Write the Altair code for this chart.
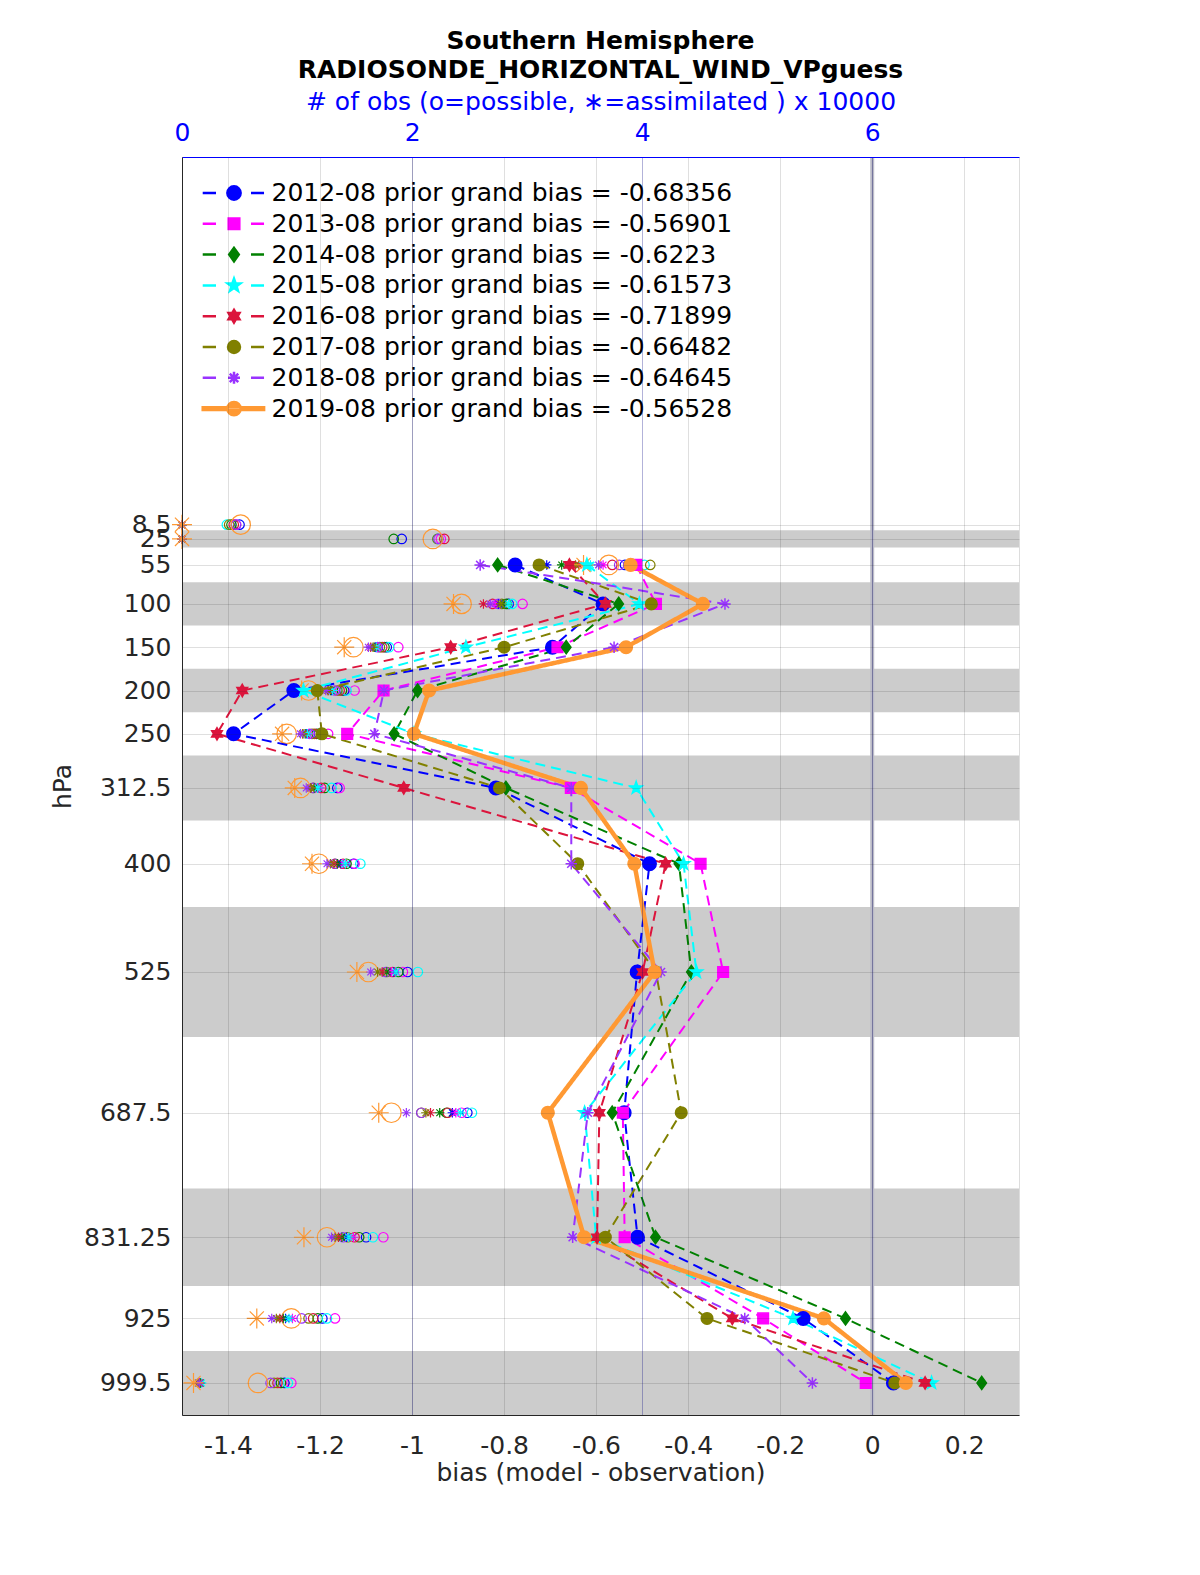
import math
import altair as alt
import pandas as pd

# ---------------- data ----------------
levels = [8.5, 25, 55, 100, 150, 200, 250, 312.5, 400, 525, 687.5, 831.25, 925, 999.5]
bias_levels = [55, 100, 150, 200, 250, 312.5, 400, 525, 687.5, 831.25, 925, 999.5]
layer_edges = [2, 15, 35, 75, 125, 175, 225, 275, 350, 450, 600, 775, 887.5, 962.5, 1036.5]
shaded_layers = [1, 3, 5, 7, 9, 11, 13]

years = ["2012-08", "2013-08", "2014-08", "2015-08", "2016-08", "2017-08", "2018-08", "2019-08"]
grand_bias = ["-0.68356", "-0.56901", "-0.6223", "-0.61573", "-0.71899", "-0.66482", "-0.64645", "-0.56528"]
colors = ["#0000FF", "#FF00FF", "#008000", "#00FFFF", "#DC143C", "#808000", "#9933FF", "#FF9933"]

bias_2012 = [-0.776, -0.585, -0.695, -1.257, -1.388, -0.818, -0.484, -0.511, -0.539, -0.510, -0.150, 0.046]
bias_2013 = [-0.513, -0.470, -0.684, -1.062, -1.141, -0.655, -0.373, -0.324, -0.542, -0.538, -0.237, -0.014]
bias_2014 = [-0.814, -0.551, -0.665, -0.988, -1.039, -0.796, -0.420, -0.393, -0.565, -0.471, -0.058, 0.238]
bias_2015 = [-0.620, -0.506, -0.883, -1.236, -0.996, -0.513, -0.410, -0.382, -0.625, -0.600, -0.172, 0.129]
bias_2016 = [-0.658, -0.580, -0.916, -1.369, -1.424, -1.018, -0.449, -0.499, -0.593, -0.598, -0.304, 0.115]
bias_2017 = [-0.724, -0.480, -0.800, -1.206, -1.196, -0.810, -0.640, -0.470, -0.415, -0.580, -0.359, 0.049]
bias_2018 = [-0.852, -0.320, -0.561, -1.061, -1.082, -0.654, -0.654, -0.459, -0.618, -0.651, -0.277, -0.130]
bias_2019 = [-0.525, -0.368, -0.535, -0.963, -0.996, -0.633, -0.517, -0.473, -0.705, -0.626, -0.105, 0.073]
bias_all = [bias_2012, bias_2013, bias_2014, bias_2015, bias_2016, bias_2017, bias_2018, bias_2019]

# obs counts (x 10000), one value per level in `levels`
possible_2012 = [0.50, 1.91, 3.85, 2.84, 1.78, 1.41, 1.19, 1.35, 1.49, 1.96, 2.48, 1.60, 1.22, 0.89]
possible_2013 = [0.47, 2.25, 3.92, 2.96, 1.88, 1.50, 1.27, 1.37, 1.50, 1.92, 2.43, 1.75, 1.33, 0.95]
possible_2014 = [0.43, 1.84, 3.88, 2.82, 1.76, 1.39, 1.17, 1.24, 1.43, 1.88, 2.30, 1.54, 1.18, 0.86]
possible_2015 = [0.39, 2.22, 4.02, 2.87, 1.80, 1.43, 1.21, 1.30, 1.55, 2.05, 2.52, 1.66, 1.26, 0.92]
possible_2016 = [0.45, 2.28, 3.74, 2.70, 1.74, 1.37, 1.15, 1.21, 1.40, 1.83, 2.31, 1.50, 1.14, 0.83]
possible_2017 = [0.41, 2.22, 4.07, 2.78, 1.72, 1.35, 1.13, 1.14, 1.33, 1.78, 2.08, 1.44, 1.10, 0.80]
possible_2018 = [0.47, 2.23, 3.80, 2.75, 1.70, 1.33, 1.11, 1.14, 1.33, 1.77, 2.08, 1.40, 1.04, 0.77]
possible_2019 = [0.51, 2.18, 3.71, 2.43, 1.49, 1.10, 0.91, 1.03, 1.19, 1.62, 1.82, 1.26, 0.95, 0.66]
possible_all = [possible_2012, possible_2013, possible_2014, possible_2015,
                possible_2016, possible_2017, possible_2018, possible_2019]

assim_2012 = [0, 0, 3.17, 2.75, 1.68, 1.30, 1.08, 1.18, 1.38, 1.84, 2.35, 1.43, 0.90, 0.15]
assim_2013 = [0, 0, 3.66, 2.72, 1.70, 1.32, 1.10, 1.20, 1.40, 1.82, 2.38, 1.49, 0.96, 0.16]
assim_2014 = [0, 0, 3.30, 2.79, 1.67, 1.29, 1.07, 1.15, 1.35, 1.78, 2.24, 1.39, 0.88, 0.16]
assim_2015 = [0, 0, 3.55, 2.84, 1.69, 1.31, 1.09, 1.18, 1.42, 1.86, 2.42, 1.45, 0.93, 0.17]
assim_2016 = [0, 0, 3.45, 2.62, 1.64, 1.27, 1.05, 1.12, 1.32, 1.74, 2.16, 1.36, 0.85, 0.15]
assim_2017 = [0, 0, 3.42, 2.77, 1.66, 1.27, 1.05, 1.12, 1.29, 1.70, 2.12, 1.33, 0.82, 0.14]
assim_2018 = [0, 0, 3.62, 2.68, 1.62, 1.25, 1.03, 1.08, 1.26, 1.64, 1.95, 1.30, 0.78, 0.15]
assim_2019 = [0, 0, 3.49, 2.36, 1.41, 1.04, 0.87, 0.98, 1.13, 1.52, 1.71, 1.06, 0.65, 0.10]
assim_all = [assim_2012, assim_2013, assim_2014, assim_2015,
             assim_2016, assim_2017, assim_2018, assim_2019]

x_ticks = [-1.4, -1.2, -1.0, -0.8, -0.6, -0.4, -0.2, 0.0, 0.2]
count_ticks = [0, 2, 4, 6]
zero_line = [0.0]

labels = [f"{y} prior grand bias = {g}" for y, g in zip(years, grand_bias)]

# ---------------- marker shapes ----------------
def circle_path(r):
    return f"M{-r},0A{r},{r} 0 1,0 {r},0A{r},{r} 0 1,0 {-r},0Z"

def square_path(r):
    return f"M{-r},{-r}L{r},{-r}L{r},{r}L{-r},{r}Z"

def diamond_path(r):
    return f"M0,{-r}L{0.72*r:.3f},0L0,{r}L{-0.72*r:.3f},0Z"

def star_path(r):
    pts = []
    for k in range(10):
        rad = r if k % 2 == 0 else r * 0.4
        ang = -math.pi / 2 + k * math.pi / 5
        pts.append((rad * math.cos(ang), rad * math.sin(ang)))
    return "M" + "L".join(f"{x:.3f},{y:.3f}" for x, y in pts) + "Z"

def hexagram_path(r):
    a, b = 0.866 * r, 0.5 * r
    return (f"M0,{-r}L{a:.3f},{b:.3f}L{-a:.3f},{b:.3f}Z"
            f"M0,{r}L{-a:.3f},{-b:.3f}L{a:.3f},{-b:.3f}Z")

def asterisk_path(r):
    d = 0.707 * r
    return (f"M{-r},0L{r},0M0,{-r}L0,{r}"
            f"M{-d:.3f},{-d:.3f}L{d:.3f},{d:.3f}M{-d:.3f},{d:.3f}L{d:.3f},{-d:.3f}")

marker_funcs = [circle_path, square_path, diamond_path, star_path,
                hexagram_path, circle_path, asterisk_path, circle_path]
marker_scale = [1, 0.8, 1, 1, 0.95, 0.9, 0.9, 1]
point_shapes = [f(s) for f, s in zip(marker_funcs, marker_scale)]
point_sizes = [180, 160, 210, 240, 220, 170, 180, 180]

# legend symbols: dash - marker - dash (unit = 7px)
dash_seg = "M-4.47,0L-2.57,0M2.43,0L4.29,0"
solid_seg = "M-4.47,-0.2L4.3,-0.2L4.3,0.2L-4.47,0.2Z"
legend_paths = []
for i, (f, s) in enumerate(zip(marker_funcs, marker_scale)):
    seg = solid_seg if i == 7 else dash_seg
    legend_paths.append(seg + f(0.95 * s))

# ---------------- tables ----------------
bias_rows = []
for lab, vals in zip(labels, bias_all):
    for p, v in zip(bias_levels, vals):
        bias_rows.append({"series": lab, "pressure": p, "bias": v})
bias_df = pd.DataFrame(bias_rows)

count_rows = []
for lab, pos, asm in zip(labels, possible_all, assim_all):
    for p, a, b in zip(levels, pos, asm):
        count_rows.append({"series": lab, "pressure": p, "possible": a, "assim": b})
count_df = pd.DataFrame(count_rows)

band_df = pd.DataFrame({"lo": [layer_edges[i] for i in shaded_layers],
                        "hi": [layer_edges[i + 1] for i in shaded_layers]})
zero_df = pd.DataFrame({"v": zero_line})
legend_df = pd.DataFrame({"series": labels})

# ---------------- scales / axes ----------------
FONT = "DejaVu Sans"
FS = 25
AX = "#262626"

y_scale = alt.Scale(domain=[-416, 1036.5], reverse=True, nice=False, zero=False)
y_axis = alt.Axis(title="hPa", values=levels, labelExpr="'' + datum.value", labelOverlap=False,
                  grid=True, gridColor=AX, gridOpacity=0.15, ticks=False,
                  domainColor=AX, labelPadding=11, titlePadding=8,
                  labelFontSize=FS, titleFontSize=FS, labelFont=FONT, titleFont=FONT,
                  labelColor=AX, titleColor=AX, titleFontWeight="normal", zindex=1)

bx_scale = alt.Scale(domain=[-1.5, 0.319], nice=False, zero=False)
bx_axis = alt.Axis(title="bias (model - observation)", values=x_ticks,
                   labelExpr="'' + datum.value", grid=True, gridColor=AX, gridOpacity=0.15,
                   ticks=False, domainColor=AX, labelPadding=18, titlePadding=2,
                   labelFontSize=FS, titleFontSize=FS, labelFont=FONT, titleFont=FONT,
                   labelColor=AX, titleColor=AX, titleFontWeight="normal",
                   labelFlush=False, labelOverlap=False, zindex=1)

cx_scale = alt.Scale(domain=[0, 7.275], nice=False, zero=False)
cx_axis = alt.Axis(title="# of obs (o=possible, \u2217=assimilated ) x 10000", orient="top",
                   values=count_ticks, grid=True, gridColor="#000080", gridOpacity=0.3,
                   ticks=False, domainColor="#0000FF", labelPadding=12, titlePadding=6,
                   labelFontSize=FS, titleFontSize=FS, labelFont=FONT, titleFont=FONT,
                   labelColor="#0000FF", titleColor="#0000FF", titleFontWeight="normal",
                   labelFlush=False, labelOverlap=False, zindex=1)

color_scale = alt.Scale(domain=labels, range=colors)

legend = alt.Legend(
    title=None, orient="none", legendX=21, legendY=23.5, padding=0,
    labelFontSize=FS, labelFont=FONT, labelColor="black", labelLimit=0,
    symbolSize=196, symbolOffset=18.5, labelOffset=25, rowPadding=4.8,
    symbolOpacity=1, symbolStrokeWidth=2.5,
)

# ---------------- layers ----------------
bands = alt.Chart(band_df).mark_rect(color="#cccccc").encode(
    y=alt.Y("lo:Q", scale=y_scale, axis=y_axis),
    y2="hi:Q",
)

zero = alt.Chart(zero_df).mark_rule(color="#bcbcc8", strokeWidth=4).encode(
    x=alt.X("v:Q", scale=bx_scale, axis=bx_axis),
)

big = alt.datum.series == labels[7]

circles = alt.Chart(count_df).mark_point(shape="circle", filled=False, opacity=1, strokeWidth=1.2).encode(
    x=alt.X("possible:Q", scale=cx_scale, axis=cx_axis),
    y=alt.Y("pressure:Q", scale=y_scale, axis=y_axis),
    color=alt.Color("series:N", scale=color_scale, legend=None),
    size=alt.condition(big, alt.value(380), alt.value(90)),
)

asterisks = alt.Chart(count_df).mark_point(shape=asterisk_path(1), filled=False, opacity=1, strokeWidth=1.2).encode(
    x=alt.X("assim:Q", scale=cx_scale, axis=cx_axis),
    y=alt.Y("pressure:Q", scale=y_scale, axis=y_axis),
    color=alt.Color("series:N", scale=color_scale, legend=None),
    size=alt.condition(big, alt.value(400), alt.value(90)),
)

lines = alt.Chart(bias_df).mark_line().encode(
    x=alt.X("bias:Q", scale=bx_scale, axis=bx_axis),
    y=alt.Y("pressure:Q", scale=y_scale, axis=y_axis),
    order=alt.Order("pressure:Q"),
    color=alt.Color("series:N", scale=color_scale, legend=None),
    strokeDash=alt.StrokeDash("series:N", scale=alt.Scale(domain=labels, range=[[10, 6]] * 7 + [[1, 0]]), legend=None),
    strokeWidth=alt.condition(big, alt.value(4.5), alt.value(2)),
)

points = alt.Chart(bias_df).mark_point(filled=True, opacity=1, strokeWidth=1.5).encode(
    x=alt.X("bias:Q", scale=bx_scale, axis=bx_axis),
    y=alt.Y("pressure:Q", scale=y_scale, axis=y_axis),
    color=alt.Color("series:N", scale=color_scale, legend=None),
    stroke=alt.Stroke("series:N", scale=color_scale, legend=None),
    shape=alt.Shape("series:N", scale=alt.Scale(domain=labels, range=point_shapes), legend=None),
    size=alt.Size("series:N", scale=alt.Scale(domain=labels, range=point_sizes), legend=None),
)

# legend-only layer (no data drawn; its scales carry the legend symbols)
legend_layer = alt.Chart(legend_df).transform_filter("false").mark_point(
    filled=True, opacity=1, size=196
).encode(
    color=alt.Color("series:N", scale=color_scale, legend=legend),
    stroke=alt.Stroke("series:N", scale=color_scale, legend=legend),
    shape=alt.Shape("series:N", scale=alt.Scale(domain=labels, range=legend_paths), legend=legend),
)

count_layer = alt.layer(circles, asterisks)
bias_layer = alt.layer(zero, lines, points)

chart = alt.layer(bands, count_layer, bias_layer, legend_layer).resolve_scale(
    x="independent", color="independent", shape="independent", stroke="independent",
).properties(
    width=837, height=1258,
    padding={"left": 42, "top": 21, "right": 10, "bottom": 10},
    title=alt.TitleParams(
        text=["Southern Hemisphere", "RADIOSONDE_HORIZONTAL_WIND_VPguess"],
        fontSize=FS, fontWeight="bold", font=FONT, color="black",
        lineHeight=29, anchor="middle", frame="group", offset=6,
    ),
).configure_view(stroke="#0000FF", strokeWidth=1).configure(font=FONT, background="white")

chart.save("out.html", embed_options={"renderer": "svg", "actions": False})
